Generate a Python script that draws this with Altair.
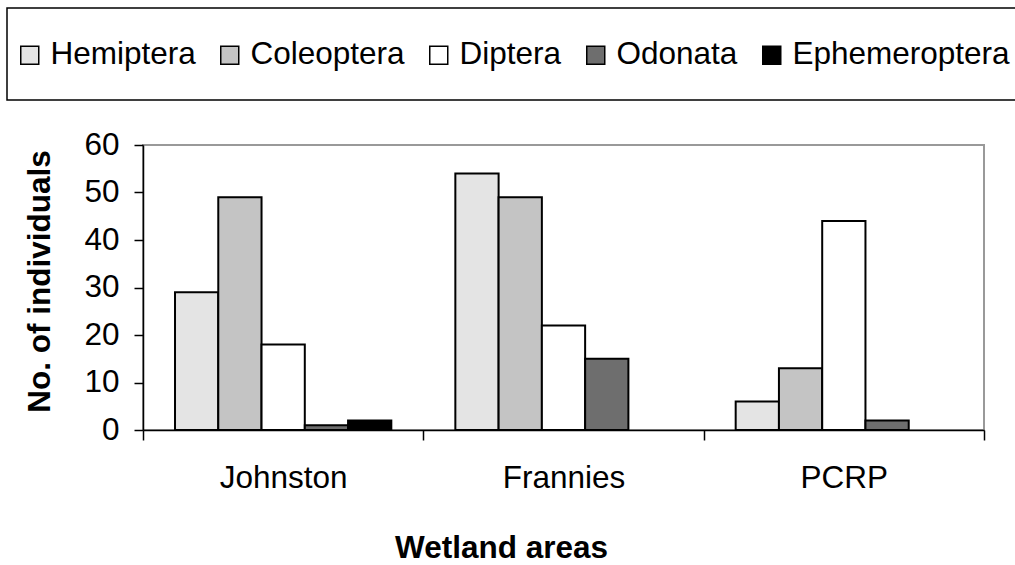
import altair as alt
import pandas as pd

# Aquatic insect counts per wetland, by order
wetlands = ["Johnston", "Frannies", "PCRP"]
orders = ["Hemiptera", "Coleoptera", "Diptera", "Odonata", "Ephemeroptera"]
hemiptera = [29, 54, 6]
coleoptera = [49, 49, 13]
diptera = [18, 22, 44]
odonata = [1, 15, 2]
ephemeroptera = [2, 0, 0]
fills = ["#e4e4e4", "#c4c4c4", "#ffffff", "#6e6e6e", "#000000"]

series = [hemiptera, coleoptera, diptera, odonata, ephemeroptera]
rows = []
for order, vals in zip(orders, series):
    for w, v in zip(wetlands, vals):
        rows.append({"Wetland": w, "Order": order, "Count": v})
df = pd.DataFrame(rows)

FONT = "Liberation Sans"
FS = 31.5

bars = alt.Chart(df).mark_bar(stroke="black", strokeWidth=2).encode(
    x=alt.X(
        "Wetland:N",
        sort=wetlands,
        scale=alt.Scale(paddingInner=0, paddingOuter=0),
        axis=alt.Axis(
            title="Wetland areas",
            titleFont=FONT,
            titleFontSize=FS,
            titleFontWeight="bold",
            titleColor="black",
            titleX=358,
            titleY=127,
            titleAlign="center",
            titleBaseline="alphabetic",
            labelFont=FONT,
            labelFontSize=FS,
            labelColor="black",
            labelAngle=0,
            labelBaseline="alphabetic",
            labelPadding=47,
            tickBand="extent",
            tickSize=10,
            tickColor="black",
            tickWidth=1.5,
            domainColor="black",
            domainWidth=1.5,
        ),
    ),
    xOffset=alt.XOffset(
        "Order:N",
        sort=orders,
        scale=alt.Scale(domain=orders, paddingInner=0, paddingOuter=0.74),
    ),
    y=alt.Y(
        "Count:Q",
        scale=alt.Scale(domain=[0, 60], nice=False),
        axis=alt.Axis(
            title="No. of individuals",
            values=[0, 10, 20, 30, 40, 50, 60],
            grid=False,
            titleFont=FONT,
            titleFontSize=FS,
            titleFontWeight="bold",
            titleColor="black",
            titleAngle=270,
            titleX=-94,
            titleY=136,
            titleAlign="center",
            titleBaseline="alphabetic",
            labelFont=FONT,
            labelFontSize=FS,
            labelColor="black",
            labelPadding=15,
            tickSize=9,
            tickColor="black",
            tickWidth=1.5,
            domainColor="black",
            domainWidth=1.5,
        ),
    ),
    color=alt.Color(
        "Order:N",
        sort=orders,
        scale=alt.Scale(domain=orders, range=fills),
        legend=alt.Legend(
            title=None,
            orient="none",
            direction="horizontal",
            legendX=-129,
            legendY=-106,
            symbolType="square",
            symbolSize=324,
            symbolStrokeColor="black",
            symbolStrokeWidth=1.5,
            symbolOpacity=1,
            labelFont=FONT,
            labelFontSize=FS,
            labelColor="black",
            labelOffset=5,
            labelLimit=400,
            columnPadding=18,
        ),
    ),
).transform_filter("datum.Count > 0")

# Frame around the legend strip
frame = alt.Chart(pd.DataFrame({"k": [0]})).mark_rect(
    fill="transparent", stroke="black", strokeWidth=1.5
).encode(
    x=alt.value(-136),
    x2=alt.value(890),
    y=alt.value(-137),
    y2=alt.value(-45),
)

chart = alt.layer(bars, frame).properties(
    width=841,
    height=285,
    autosize=alt.AutoSizeParams(type="none"),
    padding={"left": 143, "top": 145, "right": 31, "bottom": 135},
    background="white",
).configure_view(
    stroke="#999999",
    strokeWidth=2,
)

chart.save("out.html", embed_options={"renderer": "svg", "actions": False})
